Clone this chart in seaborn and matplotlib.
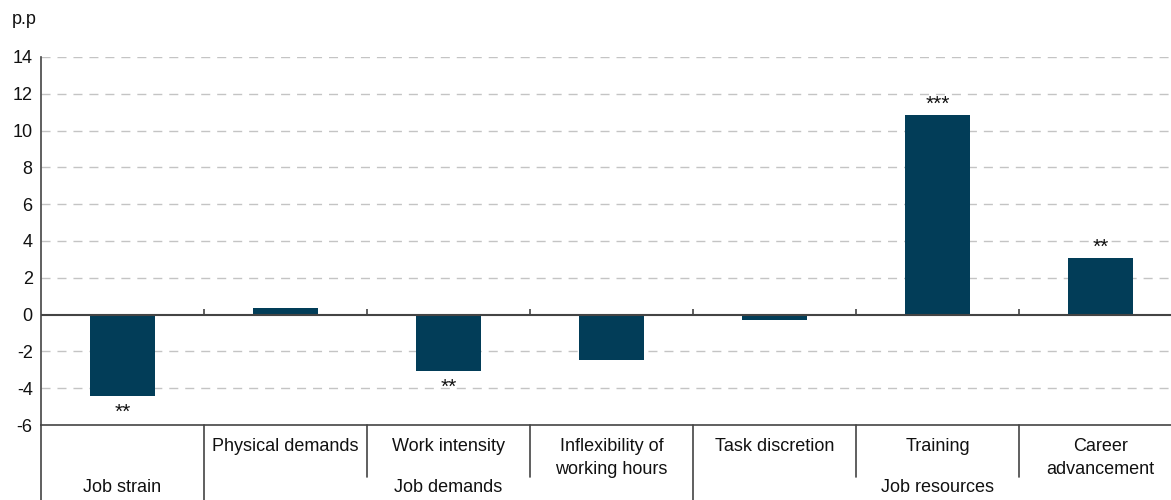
import matplotlib
matplotlib.use("Agg")
import matplotlib.pyplot as plt
import matplotlib.transforms as mtransforms
from matplotlib import font_manager
import seaborn as sns
import pandas as pd

categories = ["Job strain", "Physical demands", "Work intensity",
              "Inflexibility of\nworking hours", "Task discretion",
              "Training", "Career\nadvancement"]
sub_labels = ["", "Physical demands", "Work intensity",
              "Inflexibility of\nworking hours", "Task discretion",
              "Training", "Career\nadvancement"]
values = [-4.45, 0.35, -3.08, -2.48, -0.31, 10.87, 3.08]
stars = ["**", "", "**", "", "", "***", "**"]
groups = ["Job strain", "Job demands", "Job resources"]
group_spans = [(0, 0), (1, 3), (4, 6)]
y_ticks = [-6, -4, -2, 0, 2, 4, 6, 8, 10, 12, 14]
unit_label = "p.p"

sns.set_style("white")
names = {f.name for f in font_manager.fontManager.ttflist}
fam = "Liberation Sans Narrow" if "Liberation Sans Narrow" in names else "Liberation Sans"
plt.rcParams["font.family"] = [fam, "DejaVu Sans"]

W, H = 1171, 500
fig = plt.figure(figsize=(W / 100, H / 100), dpi=100)
ax = fig.add_axes([41 / W, (H - 425) / H, (1182 - 41) / W, (425 - 57) / H])

df = pd.DataFrame({"cat": categories, "val": values})
sns.barplot(data=df, x="cat", y="val", color="#023D58", width=0.4,
            saturation=1, ax=ax, zorder=3, linewidth=0, edgecolor="none")

ax.set_xlim(-0.5, 6.5)
ax.set_ylim(-6, 14)
ax.set_yticks(y_ticks)
ax.set_yticklabels([str(t) for t in y_ticks], fontsize=13, color="#111111")
ax.set_xticks([])
ax.set_xlabel("")
ax.set_ylabel("")
ax.tick_params(axis="y", direction="inout", length=6, width=1, color="#444444", pad=3)

for t in y_ticks:
    if t in (0, -6):
        continue
    ax.axhline(t, color="#c4c4c4", lw=1.0, ls=(0, (6.5, 5)), zorder=1)
ax.axhline(0, color="#444444", lw=1.5, zorder=4)

for s in ["top", "right"]:
    ax.spines[s].set_visible(False)
ax.spines["left"].set_color("#444444")
ax.spines["left"].set_linewidth(1.2)
ax.spines["bottom"].set_color("#444444")
ax.spines["bottom"].set_linewidth(1.2)

# small ticks on zero line at category boundaries
for i in range(len(categories) - 1):
    ax.vlines(i + 0.5, 0, 0.3, color="#444444", lw=1.2, zorder=4)

# stars
for i, (v, s) in enumerate(zip(values, stars)):
    if not s:
        continue
    if v < 0:
        ax.text(i, v - 0.35, s, ha="center", va="top", fontsize=15, color="#111111")
    else:
        ax.text(i, v + 0.05, s, ha="center", va="bottom", fontsize=15, color="#111111")

trans = mtransforms.blended_transform_factory(ax.transData, ax.transAxes)
ph = 425 - 57
def ay(py):
    return -(py - 425) / ph

# separators
group_starts = {g[0] for g in group_spans}
for i in range(len(categories)):
    x = i - 0.5
    bottom = ay(500) if i in group_starts else ay(477)
    ax.plot([x, x], [0, bottom], transform=trans, color="#444444", lw=1.2,
            clip_on=False, zorder=5)

# sub labels
for i, lab in enumerate(sub_labels):
    if lab:
        ax.text(i, ay(438), lab, transform=trans, ha="center", va="top",
                fontsize=13, color="#111111", linespacing=1.45)

# group labels
for g, (a, b) in zip(groups, group_spans):
    ax.text((a + b) / 2, ay(488), g, transform=trans, ha="center", va="center",
            fontsize=13, color="#111111")

fig.text(12 / W, 1 - 20 / H, unit_label, ha="left", va="center", fontsize=13,
         color="#111111")

fig.savefig("out.png", dpi=100)
